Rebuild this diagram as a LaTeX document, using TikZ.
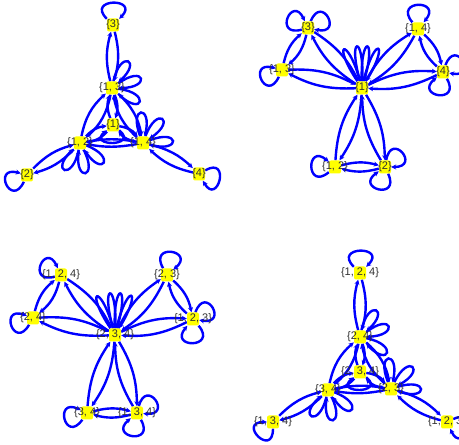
\documentclass[tikz,border=0pt]{standalone}
\usepackage{fontspec}
\setsansfont{Liberation Sans}
\definecolor{Edge}{HTML}{0000FF}
\definecolor{Mark}{HTML}{FFFF00}
\definecolor{Ink}{HTML}{303030}
\usetikzlibrary{arrows.meta,backgrounds}

\begin{document}
\begin{tikzpicture}[
  x=1pt,y=1pt,
  vtx/.style={fill=Mark,rounded corners=2pt,minimum width=12pt,minimum height=13pt,inner sep=0pt},
  lbl/.style={text=Ink,font=\sffamily\fontsize{11}{12}\selectfont,inner sep=0pt},
  arr/.style={-{Stealth[length=5pt,width=5pt]},line width=2.4pt,draw=Edge},
  pair/.style={arr,bend left=#1},
  pair/.default=15
]
\clip (0,0) rectangle (459,445);

% top left
\node[vtx,label={[lbl]center:{\{3\}}}] (a3) at (113,420) {};
\node[vtx,label={[lbl]center:{\{1, 3\}}}] (a13) at (112,357) {};
\node[vtx,label={[lbl]center:{\{1\}}}] (a1) at (113,320) {};
\node[vtx,label={[lbl]center:{\{1, 2\}}}] (a12) at (80,302) {};
\node[vtx,label={[lbl]center:{\{1, 4\}}}] (a14) at (143,302) {};
\node[vtx,label={[lbl]center:{\{2\}}}] (a2) at (27,270) {};
\node[vtx,label={[lbl]center:{\{4\}}}] (a4) at (199,271) {};

% top right
\node[vtx,label={[lbl]center:{\{1\}}}] (b1) at (362,357) {};
\node[vtx,label={[lbl]center:{\{3\}}}] (b3) at (308,417) {};
\node[vtx,label={[lbl]center:{\{1, 3\}}}] (b13) at (282,375) {};
\node[vtx,label={[lbl]center:{\{1, 4\}}}] (b14) at (418,416) {};
\node[vtx,label={[lbl]center:{\{4\}}}] (b4) at (443,373) {};
\node[vtx,label={[lbl]center:{\{1, 2\}}}] (b12) at (335,278) {};
\node[vtx,label={[lbl]center:{\{2\}}}] (b2) at (385,278) {};

% bottom left
\node[vtx,label={[lbl]center:{\{2, 3, 4\}}}] (c234) at (115,110) {};
\node[vtx,label={[lbl]center:{\{1, 2, 4\}}}] (c124) at (61,170) {};
\node[vtx,label={[lbl]center:{\{2, 4\}}}] (c24) at (33,127) {};
\node[vtx,label={[lbl]center:{\{2, 3\}}}] (c23) at (167,170) {};
\node[vtx,label={[lbl]center:{\{1, 2, 3\}}}] (c123) at (193,126) {};
\node[vtx,label={[lbl]center:{\{3, 4\}}}] (c34) at (87,32) {};
\node[vtx,label={[lbl]center:{\{1, 3, 4\}}}] (c134) at (137,32) {};

% bottom right
\node[vtx,label={[lbl]center:{\{1, 2, 4\}}}] (d124) at (360,172) {};
\node[vtx,label={[lbl]center:{\{2, 4\}}}] (d24) at (360,108) {};
\node[vtx,label={[lbl]center:{\{2, 3, 4\}}}] (d234) at (360,73) {};
\node[vtx,label={[lbl]center:{\{3, 4\}}}] (d34) at (328,55) {};
\node[vtx,label={[lbl]center:{\{2, 3\}}}] (d23) at (391,56) {};
\node[vtx,label={[lbl]center:{\{1, 3, 4\}}}] (d134) at (273,23) {};
\node[vtx,label={[lbl]center:{\{1, 2, 3\}}}] (d123) at (447,23) {};

\begin{scope}[on background layer]
% two arcs for every pair
\foreach \p/\q/\b in {a3/a13/15,a13/a1/20,a13/a12/18,a13/a14/18,a1/a12/20,a1/a14/20,a12/a14/10,a12/a2/15,a14/a4/15,
    b1/b3/15,b1/b13/15,b1/b14/15,b1/b4/15,b1/b12/15,b1/b2/15,b3/b13/18,b14/b4/18,b12/b2/15,
    c234/c124/15,c234/c24/15,c234/c23/15,c234/c123/15,c234/c34/15,c234/c134/15,c124/c24/18,c23/c123/18,c34/c134/15,
    d124/d24/15,d24/d234/20,d24/d34/18,d24/d23/18,d234/d34/20,d234/d23/20,d34/d23/10,d34/d134/15,d23/d123/15}{
  \draw[pair=\b] (\p) to (\q);
  \draw[pair=\b] (\q) to (\p);
}
% petals
\foreach \n/\o/\i in {a13/78/42,a13/36/0,a13/-7/-43,a12/-101/-137,a12/-62/-98,a12/-21/-57,a14/112/76,a14/70/34,a14/22/-14,
    d24/78/42,d24/38/2,d24/-11/-47,d34/-103/-139,d34/-63/-99,d34/-20/-56,d23/113/77,d23/64/28,d23/18/-18}
  \draw[arr] (\n) to[out=\o,in=\i,min distance=33pt] (\n);
\foreach \n in {b1,c234}
  \foreach \o/\i in {124/106,106/88,92/74,77/59}
    \draw[arr] (\n) to[out=\o,in=\i,min distance=47pt] (\n);
% round loops
\foreach \n/\o/\i in {a3/135/45,a2/-115/-195,a4/30/-60,d124/135/45,d134/-90/-180,d123/25/-65,
    b3/195/115,b3/68/-12,b13/-115/-195,b14/130/50,b4/70/-10,b4/-60/-140,b12/220/140,b2/80/0,b2/-65/-145,
    c124/195/115,c24/-120/-200,c23/120/40,c123/70/-10,c123/-50/-130,c34/-125/-205,c134/75/-5,c134/-60/-140}
  \draw[arr] (\n) to[out=\o,in=\i,min distance=30pt] (\n);
\draw[arr] (a1) to[out=-40,in=-140,min distance=26pt] (a1);
\draw[arr] (d234) to[out=-40,in=-140,min distance=26pt] (d234);
\end{scope}
\end{tikzpicture}
\end{document}
